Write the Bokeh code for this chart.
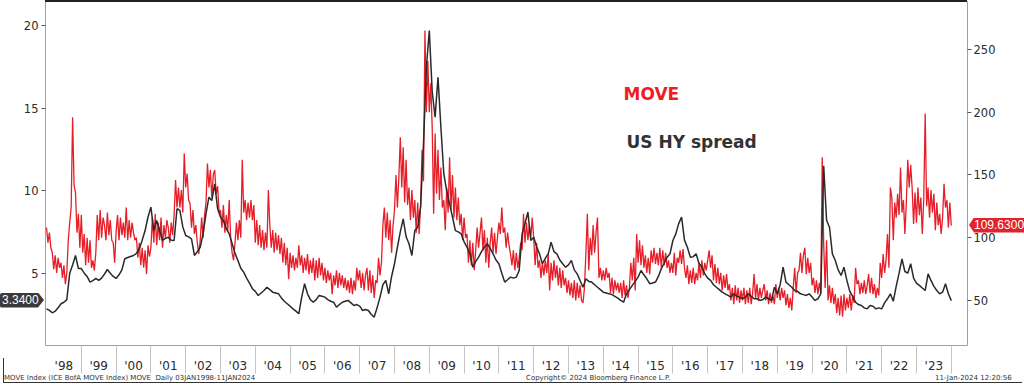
from bokeh.plotting import figure
from bokeh.models import Range1d, LinearAxis, FixedTicker, Label, Div
from bokeh.layouts import column
from bokeh.embed import file_html
from bokeh.resources import INLINE

# ---------------- data ----------------
years = list(range(1998, 2024))
year_labels = ["'98", "'99", "'00", "'01", "'02", "'03", "'04", "'05", "'06", "'07",
               "'08", "'09", "'10", "'11", "'12", "'13", "'14", "'15", "'16", "'17",
               "'18", "'19", "'20", "'21", "'22", "'23"]
left_ticks = [5, 10, 15, 20]
right_ticks = [50, 100, 150, 200, 250]

# US HY spread (%), monthly from Jan 1998 to Jan 2024 (left axis)
hy_spread = [
    2.84, 2.75, 2.6, 2.7, 2.9, 3.15, 3.24, 3.4, 5.0, 5.5, 6.07, 5.28,
    5.28, 5.0, 4.8, 4.46, 4.55, 4.68, 4.56, 4.7, 4.95, 5.22, 5.0, 4.8,
    4.68, 4.9, 5.2, 5.87, 5.95, 6.01, 6.07, 6.2, 6.48, 7.0, 7.58, 8.4,
    9.0, 7.58, 8.19, 7.6, 6.98, 7.1, 7.18, 7.0, 6.98, 8.9, 8.8, 7.8,
    7.28, 7.2, 7.08, 6.07, 6.3, 6.57, 7.4, 8.6, 9.6, 9.4, 10.4, 8.9,
    8.4, 8.19, 7.7, 7.38, 6.8, 6.2, 5.77, 5.3, 5.06, 4.7, 4.4, 4.06,
    3.9, 3.65, 3.8, 3.95, 4.15, 4.0, 3.85, 3.8, 3.75, 3.5, 3.3, 3.15,
    3.0, 2.84, 2.7, 2.54, 3.55, 4.36, 3.75, 3.4, 3.24, 3.4, 3.65, 3.6,
    3.55, 3.4, 3.3, 3.24, 2.94, 3.1, 3.24, 3.3, 3.35, 3.2, 3.04, 3.1,
    3.0, 2.74, 2.8, 2.74, 2.5, 2.34, 2.9, 3.55, 4.3, 4.56, 3.75, 4.8,
    5.57, 6.57, 7.5, 8.29, 7.2, 6.78, 6.07, 7.58, 7.78, 9.0, 12.83, 17.47,
    19.69, 16.0, 14.44, 16.86, 13.84, 11.02, 10.0, 9.2, 8.4, 7.58, 7.5, 7.38,
    6.9, 6.57, 6.17, 5.36, 5.7, 5.97, 6.3, 6.57, 6.78, 6.5, 6.17, 5.8,
    5.57, 5.0, 4.46, 4.6, 4.76, 4.7, 4.76, 5.16, 7.38, 8.0, 8.7, 6.98,
    7.18, 6.6, 6.17, 5.57, 5.9, 6.17, 6.88, 6.3, 6.17, 5.8, 5.57, 5.36,
    5.5, 5.77, 5.2, 4.96, 4.56, 4.15, 4.66, 4.5, 4.46, 4.3, 4.15, 4.0,
    3.85, 3.8, 3.75, 3.7, 3.6, 3.49, 3.35, 3.24, 3.75, 4.0, 4.26, 4.5,
    4.76, 5.16, 4.9, 4.66, 4.36, 4.4, 4.46, 4.8, 5.27, 5.6, 5.97, 6.17,
    6.98, 7.38, 8.0, 8.39, 7.0, 6.57, 5.97, 6.0, 6.17, 5.6, 5.36, 4.96,
    4.7, 4.56, 4.3, 4.15, 4.0, 3.85, 3.75, 3.65, 3.55, 3.75, 3.6, 3.55,
    3.45, 3.55, 3.75, 3.6, 3.45, 3.45, 3.35, 3.4, 3.55, 3.45, 3.35, 4.15,
    3.75, 4.3, 5.36, 4.46, 4.3, 4.15, 3.95, 3.9, 3.75, 3.7, 3.65, 3.75,
    3.55, 3.35, 3.45, 3.75, 11.5, 8.2, 7.78, 6.17, 5.77, 5.2, 4.86, 5.36,
    4.56, 3.9, 3.6, 3.24, 3.1, 3.04, 2.9, 2.84, 3.04, 3.0, 2.84, 2.9,
    2.84, 3.2, 3.45, 3.75, 3.3, 4.2, 5.0, 5.87, 5.1, 5.0, 5.57, 4.7,
    4.4, 4.26, 4.1, 3.95, 4.96, 4.56, 4.2, 3.95, 3.75, 3.85, 4.36, 3.75,
    3.34,
]

# MOVE index, twice a month from Jan 1998 to Jan 2024 (right axis)
move_index = [
    108, 96, 104, 92, 88, 75, 86, 72, 84, 76, 80, 68, 78, 63, 72, 98, 112, 124, 196, 142, 136, 104, 119, 92,
    118, 88, 103, 78, 100, 80, 98, 76, 82, 74, 88, 118, 98, 122, 100, 116, 110, 98, 120, 102, 114, 98, 96, 80,
    105, 118, 98, 116, 102, 112, 100, 124, 98, 114, 100, 112, 104, 98, 100, 84, 96, 78, 92, 76, 90, 71, 94, 85,
    92, 116, 96, 119, 94, 112, 98, 116, 92, 110, 100, 114, 108, 96, 112, 102, 118, 146, 124, 140, 124, 138, 120, 167,
    140, 151, 130, 127, 108, 122, 103, 110, 96, 87, 98, 116, 100, 118, 128, 159, 140, 154, 132, 150, 154, 135, 141, 120,
    122, 108, 126, 104, 118, 106, 130, 100, 88, 82, 96, 112, 98, 114, 100, 162, 120, 130, 114, 128, 116, 130, 114, 126,
    96, 114, 94, 110, 92, 106, 90, 104, 92, 138, 110, 92, 106, 88, 104, 90, 102, 87, 100, 80, 96, 78, 92, 67,
    88, 76, 86, 74, 84, 76, 94, 78, 86, 72, 84, 74, 87, 71, 82, 72, 84, 66, 82, 68, 84, 70, 80, 66,
    76, 64, 74, 66, 72, 55, 70, 62, 74, 60, 72, 62, 70, 60, 68, 58, 66, 56, 68, 55, 66, 58, 76, 66,
    74, 60, 72, 58, 70, 76, 58, 74, 56, 70, 52, 66, 64, 84, 70, 80, 110, 124, 100, 120, 98, 114, 88, 110,
    122, 150, 124, 148, 180, 140, 172, 128, 162, 126, 140, 114, 138, 116, 130, 104, 128, 103, 126, 170, 145, 265, 200, 241,
    200, 223, 188, 119, 183, 135, 170, 130, 156, 124, 130, 106, 140, 120, 164, 122, 150, 116, 140, 114, 132, 110, 119, 98,
    116, 100, 103, 80, 98, 78, 96, 74, 90, 108, 92, 104, 116, 90, 106, 80, 100, 76, 96, 108, 88, 104, 87, 100,
    112, 103, 124, 104, 108, 92, 104, 94, 87, 78, 90, 74, 88, 76, 84, 96, 90, 119, 96, 112, 98, 110, 100, 116,
    100, 78, 96, 76, 82, 68, 80, 70, 82, 72, 87, 58, 80, 66, 82, 68, 78, 62, 76, 60, 74, 62, 68, 56,
    66, 54, 64, 52, 66, 50, 64, 52, 62, 50, 48, 60, 88, 119, 74, 100, 86, 110, 88, 104, 116, 68, 76, 66,
    74, 66, 76, 68, 72, 56, 68, 55, 66, 58, 64, 56, 64, 52, 66, 54, 62, 52, 60, 80, 66, 84, 58, 103,
    80, 98, 78, 94, 76, 86, 72, 84, 71, 90, 80, 92, 79, 88, 78, 92, 76, 90, 78, 88, 76, 82, 72, 80,
    72, 88, 70, 84, 80, 90, 79, 91, 76, 68, 78, 63, 74, 64, 76, 63, 72, 66, 80, 68, 82, 70, 80, 74,
    82, 90, 76, 86, 66, 79, 64, 76, 63, 72, 58, 70, 60, 71, 58, 63, 50, 60, 47, 62, 50, 60, 48, 58,
    50, 60, 47, 58, 48, 60, 47, 56, 71, 52, 63, 50, 60, 52, 58, 63, 50, 58, 47, 56, 48, 54, 47, 63,
    52, 60, 50, 60, 52, 58, 46, 55, 44, 52, 42, 60, 76, 56, 72, 74, 88, 72, 86, 92, 71, 84, 72, 80,
    62, 68, 56, 66, 55, 64, 56, 164, 95, 60, 98, 50, 62, 48, 60, 47, 55, 40, 52, 38, 54, 37, 55, 42,
    52, 44, 55, 42, 54, 48, 76, 63, 66, 55, 64, 56, 66, 55, 62, 71, 56, 68, 55, 63, 52, 60, 54, 80,
    68, 87, 72, 82, 103, 76, 140, 132, 98, 128, 116, 135, 118, 156, 120, 130, 103, 128, 162, 140, 158, 140, 111, 136,
    112, 140, 118, 132, 103, 130, 199, 125, 140, 116, 138, 120, 135, 106, 128, 110, 119, 103, 116, 143, 124, 130, 108, 128,
    109.63,
]

hy_x = [years[0] + i / 12 for i in range(len(hy_spread))]
move_x = [years[0] + i / 24 for i in range(len(move_index))]

# ---------------- layout ----------------
W, H = 1016, 377
BL, BR, BT, BB = 45, 49, 1, 32
FW, FH = W - BL - BR, H - BT - BB
X0, X1 = 1997.971, 2024.466
Y0, Y1 = 0.62, 21.45          # left axis (HY spread)
M0, M1 = 14.1, 288.2          # right axis (MOVE)


def px_x(px):
    return X0 + (px - BL) * (X1 - X0) / FW


def px_y(py):
    return Y1 - (py - BT) * (Y1 - Y0) / FH


def hy_to_py(v):
    return BT + (Y1 - v) / (Y1 - Y0) * FH


def move_to_py(v):
    return BT + (M1 - v) / (M1 - M0) * FH


FONT = "DejaVu Sans"
TXT = "#2b2b2b"

p = figure(width=W, height=H, output_backend="svg", toolbar_location=None,
           x_range=Range1d(X0, X1), y_range=Range1d(Y0, Y1),
           min_border_left=BL, min_border_right=BR, min_border_top=BT, min_border_bottom=BB,
           background_fill_color="white", border_fill_color="white",
           outline_line_color="#a0a0a0", outline_line_width=1)
p.extra_y_ranges = {"move": Range1d(M0, M1)}
p.xgrid.visible = False
p.ygrid.visible = False

# x axis: year labels centred in each year, separators at year boundaries
mids = [y + 0.5 for y in years]
xax = p.xaxis[0]
xax.ticker = FixedTicker(ticks=mids, minor_ticks=[y + 1 for y in years])
xax.major_label_overrides = {m: lab for m, lab in zip(mids, year_labels)}
xax.major_tick_line_color = None
xax.major_tick_out = 0
xax.major_tick_in = 0
xax.minor_tick_out = 28
xax.minor_tick_in = 0
xax.minor_tick_line_color = "#c4c4c4"
xax.axis_line_color = None
xax.major_label_standoff = -15
xax.major_label_text_font = FONT
xax.major_label_text_font_size = "12px"
xax.major_label_text_color = TXT

# left axis (HY spread)
yax = p.yaxis[0]
yax.ticker = FixedTicker(ticks=left_ticks)
yax.major_tick_out = 4
yax.major_tick_in = 0
yax.major_tick_line_color = "#555555"
yax.minor_tick_line_color = None
yax.minor_tick_out = 0
yax.axis_line_color = None
yax.major_label_standoff = 3
yax.major_label_text_font = FONT
yax.major_label_text_font_size = "11.5px"
yax.major_label_text_color = TXT

# right axis (MOVE)
rax = LinearAxis(y_range_name="move", ticker=FixedTicker(ticks=right_ticks))
rax.major_tick_out = 4
rax.major_tick_in = 0
rax.major_tick_line_color = "#555555"
rax.minor_tick_line_color = None
rax.minor_tick_out = 0
rax.axis_line_color = None
rax.major_label_standoff = 2
rax.major_label_text_font = FONT
rax.major_label_text_font_size = "11.5px"
rax.major_label_text_color = TXT
p.add_layout(rax, "right")

RED = "#e61e28"
DARK = "#2a2a2a"

p.line(move_x, move_index, y_range_name="move", line_color=RED, line_width=1.3)
p.line(hy_x, hy_spread, line_color=DARK, line_width=1.5)

# in-chart legend texts
p.add_layout(Label(x=px_x(623), y=px_y(93), text="MOVE", text_font=FONT,
                   text_font_size="17px", text_font_style="bold", text_color="#ee1c25",
                   text_baseline="alphabetic"))
p.add_layout(Label(x=px_x(626), y=px_y(141), text="US HY spread", text_font=FONT,
                   text_font_size="17px", text_font_style="bold", text_color="#333333",
                   text_baseline="alphabetic"))

# ---------------- overlay: last-value badges, top rule, footer ----------------
hy_last_y = hy_to_py(hy_spread[-1])
mv_last_y = move_to_py(move_index[-1])
badge_css = ("position:absolute;height:15px;line-height:15px;color:white;"
             "font-family:'Liberation Sans',sans-serif;font-size:12px;white-space:nowrap;")
foot_css = ("position:absolute;top:374px;font-family:'DejaVu Sans',sans-serif;font-size:7px;"
            "color:#333;white-space:nowrap;line-height:8px;")
rb_left = BL + FW + 2
html = (
    f'<div style="position:relative;width:{W}px;height:{H}px;margin:0;padding:0;">'
    f'<div style="position:absolute;left:{BL}px;top:0px;width:{FW}px;height:2px;background:#222;"></div>'
    f'<div style="{badge_css}left:0px;top:{hy_last_y - 7.5:.1f}px;width:44px;padding-left:2px;'
    f'box-sizing:border-box;background:#3a3a3a;border-radius:2px 0 0 2px;'
    f'clip-path:polygon(0 0,38px 0,44px 50%,38px 100%,0 100%);">{hy_spread[-1]:.4f}</div>'
    f'<div style="{badge_css}left:{rb_left}px;top:{mv_last_y - 7.5:.1f}px;width:{1024 - rb_left}px;'
    f'padding-left:5px;box-sizing:border-box;background:#e3222b;'
    f'clip-path:polygon(0 50%,5px 0,100% 0,100% 100%,5px 100%);">{move_index[-1]:.4f}</div>'
    f'<div style="position:absolute;left:3px;top:358px;width:1px;height:25px;background:#333;"></div>'
    f'<div style="position:absolute;left:3px;top:382px;width:1019px;height:1px;background:#333;"></div>'
    f'<div style="{foot_css}left:4px;">MOVE Index (ICE BofA MOVE Index) MOVE&nbsp; Daily 03JAN1998-11JAN2024</div>'
    f'<div style="{foot_css}left:526px;">Copyright\u00a9 2024 Bloomberg Finance L.P.</div>'
    f'<div style="{foot_css}left:935px;">11-Jan-2024 12:20:56</div>'
    f'</div>'
)
overlay = Div(text=html, width=W, height=H, margin=0,
              styles={"position": "absolute", "left": "0px", "top": "0px",
                      "pointer-events": "none", "overflow": "visible"})

layout = column(p, overlay, spacing=0)

open("out.html", "w").write(file_html(layout, INLINE))
